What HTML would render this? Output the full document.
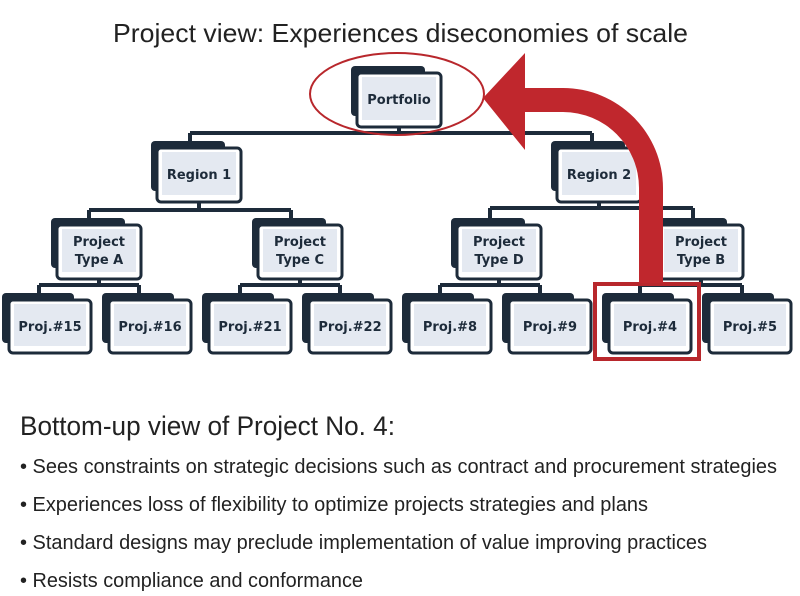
<!DOCTYPE html>
<html><head><meta charset="utf-8"><style>
html,body{margin:0;padding:0;background:#fff;}
svg{display:block;}
.nt{font-family:"DejaVu Sans",sans-serif;font-weight:bold;font-size:13px;fill:#1d2b3a;text-anchor:middle;}
.bt{font-family:"Liberation Sans",sans-serif;fill:#222;}
</style></head><body>
<svg width="800" height="596" viewBox="0 0 800 596" xmlns="http://www.w3.org/2000/svg">
<text class="bt" x="113" y="42" font-size="26" textLength="575" lengthAdjust="spacingAndGlyphs">Project view: Experiences diseconomies of scale</text>

<g stroke="#1d2b3a" stroke-width="4" fill="none">
<path d="M399 127V133M190 133H592M190 133V143M592 133V143"/>
<path d="M199 202V210M89 210H291M89 210V220M291 210V220"/>
<path d="M599 202V208M490 208H693M490 208V220M693 208V220"/>
<path d="M99 278V285M39 285H139M39 285V295M139 285V295"/>
<path d="M300 278V285M240 285H340M240 285V295M340 285V295"/>
<path d="M499 278V285M440 285H540M440 285V295M540 285V295"/>
<path d="M701 278V285M640 285H742M640 285V295M742 285V295"/>
</g>

<defs>
<g id="leaf">
<rect x="-7" y="-7" width="72" height="50" rx="4" fill="#1d2b3a"/>
<rect x="0" y="0" width="82" height="53" rx="4" fill="#fff" stroke="#1d2b3a" stroke-width="3"/>
<rect x="5" y="4" width="72" height="42" fill="#e4e9f1"/>
</g>
<g id="mid">
<rect x="-6" y="-7" width="74" height="50" rx="4" fill="#1d2b3a"/>
<rect x="0" y="0" width="84" height="54" rx="4" fill="#fff" stroke="#1d2b3a" stroke-width="3"/>
<rect x="5" y="4" width="74" height="43" fill="#e4e9f1"/>
</g>
</defs>

<use href="#mid" x="357" y="73"/><text class="nt" x="399" y="104">Portfolio</text>
<use href="#mid" x="157" y="148"/><text class="nt" x="199" y="179">Region 1</text>
<use href="#mid" x="557" y="148"/><text class="nt" x="599" y="179">Region 2</text>
<use href="#mid" x="57" y="225"/><text class="nt" x="99" y="246">Project</text><text class="nt" x="99" y="264">Type A</text>
<use href="#mid" x="258" y="225"/><text class="nt" x="300" y="246">Project</text><text class="nt" x="300" y="264">Type C</text>
<use href="#mid" x="457" y="225"/><text class="nt" x="499" y="246">Project</text><text class="nt" x="499" y="264">Type D</text>
<use href="#mid" x="659" y="225"/><text class="nt" x="701" y="246">Project</text><text class="nt" x="701" y="264">Type B</text>

<use href="#leaf" x="9" y="300"/><text class="nt" x="50" y="331">Proj.#15</text>
<use href="#leaf" x="109" y="300"/><text class="nt" x="150" y="331">Proj.#16</text>
<use href="#leaf" x="209" y="300"/><text class="nt" x="250" y="331">Proj.#21</text>
<use href="#leaf" x="309" y="300"/><text class="nt" x="350" y="331">Proj.#22</text>
<use href="#leaf" x="409" y="300"/><text class="nt" x="450" y="331">Proj.#8</text>
<use href="#leaf" x="509" y="300"/><text class="nt" x="550" y="331">Proj.#9</text>
<use href="#leaf" x="609" y="300"/><text class="nt" x="650" y="331">Proj.#4</text>
<use href="#leaf" x="709" y="300"/><text class="nt" x="750" y="331">Proj.#5</text>

<ellipse cx="397" cy="94" rx="87" ry="41" fill="none" stroke="#b8272c" stroke-width="2"/>
<rect x="595" y="284" width="104" height="75" fill="none" stroke="#b8272c" stroke-width="4"/>
<path d="M525 88 L563 88 A100 100 0 0 1 663 188 L663 283 L639 283 L639 188 A76 76 0 0 0 563 112 L525 112 L525 150 L483 98 L525 53 Z" fill="#c0272d"/>

<text class="bt" x="20" y="435" font-size="27" textLength="375" lengthAdjust="spacingAndGlyphs">Bottom-up view of Project No. 4:</text>
<g class="bt" font-size="20">
<text x="20" y="473" textLength="757" lengthAdjust="spacingAndGlyphs">• Sees constraints on strategic decisions such as contract and procurement strategies</text>
<text x="20" y="511" textLength="628" lengthAdjust="spacingAndGlyphs">• Experiences loss of flexibility to optimize projects strategies and plans</text>
<text x="20" y="549" textLength="687" lengthAdjust="spacingAndGlyphs">• Standard designs may preclude implementation of value improving practices</text>
<text x="20" y="587" textLength="343" lengthAdjust="spacingAndGlyphs">• Resists compliance and conformance</text>
</g>
</svg>
</body></html>
